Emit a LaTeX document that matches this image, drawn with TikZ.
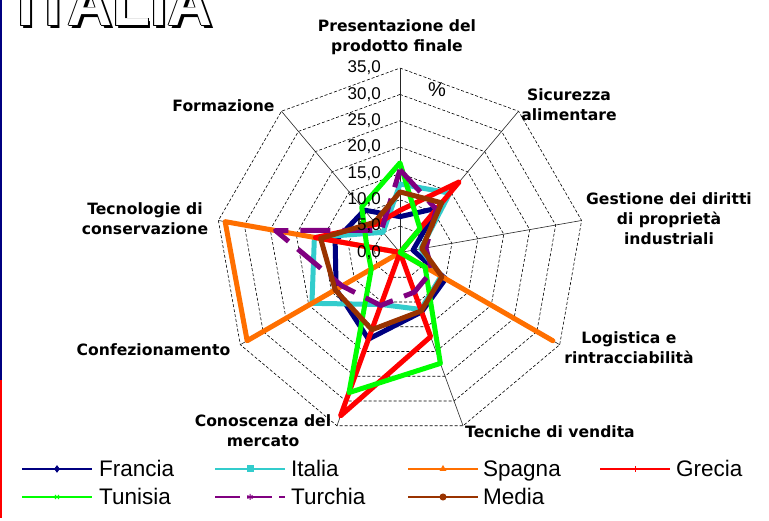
\documentclass[tikz,border=0pt]{standalone}
\usepackage{fontspec}
\setmainfont{Liberation Sans}
\newfontfamily\etichetta{DejaVu Sans}
\usetikzlibrary{plotmarks}

\definecolor{francia}{HTML}{000080}
\definecolor{italia}{HTML}{33CCCC}
\definecolor{spagna}{HTML}{FF6F00}
\definecolor{grecia}{HTML}{FF0000}
\definecolor{tunisia}{HTML}{00FF00}
\definecolor{turchia}{HTML}{800080}
\definecolor{media}{HTML}{993300}

\tikzset{
    anello/.style={black, line width=0.6pt, dash pattern=on 3pt off 2pt},
    raggio/.style={black!85, line width=0.6pt},
    serie/.style={line width=5pt, line join=round},
    asse/.style={font=\etichetta\bfseries\fontsize{15.6}{20}\selectfont, align=center, inner sep=0pt},
    tacca/.style={font=\fontsize{17}{17}\selectfont, anchor=east, inner sep=0pt},
    voce/.style={font=\fontsize{22.5}{23}\selectfont, anchor=base west, inner sep=0pt},
    campione/.style={line width=2.8pt},
    segno/.style={mark size=3pt, mark options={solid, line width=1pt}},
    titolo/.style={font=\bfseries\fontsize{62}{62}\selectfont, anchor=base west, inner sep=0pt}
}

\begin{document}
\begin{tikzpicture}[x=1pt, y=1pt]
    \useasboundingbox (0,0) rectangle (769,521);
    \fill[white] (0,0) rectangle (769,521);

    % bordo della diapositiva
    \draw[francia, line width=2pt] (1,521) -- (1,141);
    \draw[grecia, line width=2pt] (1,141) -- (1,3);

    % titolo in contorno
    \foreach \dx/\dy in {2.4/-2.4, 0.9/0, -0.9/0, 0/0.9, 0/-0.9, 0.6/0.6, -0.6/0.6, 0.6/-0.6, -0.6/-0.6}
        \node[titolo, text=black] at (17+\dx,495+\dy) {ITALIA};
    \node[titolo, text=white] (titolo) at (17,495) {ITALIA};

    \begin{scope}[shift={(400,268.5)}, x=5.2686pt, y=5.2686pt]
        % griglia a nove assi
        \foreach \r in {5,10,...,35}
            \draw[anello] (90:\r) \foreach \a in {50,10,...,-230} {-- (\a:\r)} -- cycle;
        \foreach \a in {90,50,...,-230}
            \draw[raggio] (0,0) -- (\a:35);

        % serie (percentuali)
        \draw[serie, francia] (90:6.8) -- (50:11) -- (10:2.5) -- (-30:10) -- (-70:12) -- (-110:17.5) -- (-150:14) -- (170:12.5) -- (130:10.5) -- cycle;
        \draw[serie, italia] (90:13) -- (50:14.7) -- (10:4) -- (-30:9) -- (-70:11.5) -- (-110:10.5) -- (-150:19.3) -- (170:16.5) -- (130:5) -- cycle;
        \draw[serie, spagna] (90:0) -- (50:0) -- (10:0) -- (-30:33.5) -- (-70:0) -- (-110:0) -- (-150:33.5) -- (170:33.7) -- (130:0) -- cycle;
        \draw[serie, grecia] (90:8) -- (50:17.5) -- (10:0) -- (-30:0) -- (-70:17) -- (-110:33) -- (-150:0) -- (170:16.3) -- (130:7) -- cycle;
        \draw[serie, tunisia] (90:17) -- (50:5.9) -- (10:0) -- (-30:5.5) -- (-70:22.4) -- (-110:28.3) -- (-150:6.3) -- (170:6.4) -- (130:11.3) -- cycle;
        \draw[serie, turchia, dash pattern=on 30pt off 12pt] (90:15.7) -- (50:10.7) -- (10:5) -- (-30:7) -- (-70:8) -- (-110:10.7) -- (-150:12.7) -- (170:24) -- (130:5.5) -- cycle;
        \draw[serie, media] (90:11.5) -- (50:12.3) -- (10:4.2) -- (-30:9.2) -- (-70:11.8) -- (-110:15.6) -- (-150:14.2) -- (170:15.3) -- (130:7.5) -- cycle;

        % valori sull'asse verticale
        \foreach \v in {0,5,...,35}
            \node[tacca] (t\v) at (-3.6,\v) {\v,0};
    \end{scope}

    \node[font=\fontsize{20}{20}\selectfont] (perc) at (437,431) {\%};

    % nomi degli assi
    \node[asse] (pres) at (397,484) {Presentazione del\\prodotto finale};
    \node[asse] (sicur) at (569,416) {Sicurezza\\alimentare};
    \node[asse] (gest) at (669,302.5) {Gestione dei diritti\\di proprietà\\industriali};
    \node[asse] (logist) at (629,173.5) {Logistica e\\rintracciabilità};
    \node[asse] (tecven) at (550,89) {Tecniche di vendita};
    \node[asse] (conosc) at (263,90) {Conoscenza del\\mercato};
    \node[asse] (confez) at (153.5,171.5) {Confezionamento};
    \node[asse] (tecnol) at (145,302) {Tecnologie di\\conservazione};
    \node[asse] (formaz) at (223.5,415.5) {Formazione};

    % legenda
    \draw[campione, francia] (22,52) -- (92,52);
    \draw[francia, segno] plot[mark=diamond*] coordinates {(57,52)};
    \node[voce] (leg-francia) at (99,44) {Francia};
    \draw[campione, italia] (215,52) -- (285,52);
    \draw[italia, segno] plot[mark=square*] coordinates {(250,52)};
    \node[voce] (leg-italia) at (291,44) {Italia};
    \draw[campione, spagna] (408,52) -- (478,52);
    \draw[spagna, segno] plot[mark=triangle*] coordinates {(443,52)};
    \node[voce] (leg-spagna) at (483,44) {Spagna};
    \draw[campione, grecia] (600,52) -- (670,52);
    \draw[grecia, segno] plot[mark=+] coordinates {(635,52)};
    \node[voce] (leg-grecia) at (676,44) {Grecia};
    \draw[campione, tunisia] (22,24) -- (92,24);
    \draw[tunisia, segno] plot[mark=x] coordinates {(57,24)};
    \node[voce] (leg-tunisia) at (99,16) {Tunisia};
    \draw[campione, turchia, dash pattern=on 25pt off 7pt] (215,24) -- (285,24);
    \draw[turchia, segno] plot[mark=asterisk] coordinates {(250,24)};
    \node[voce] (leg-turchia) at (291,16) {Turchia};
    \draw[campione, media] (408,24) -- (478,24);
    \draw[media, segno] plot[mark=*] coordinates {(443,24)};
    \node[voce] (leg-media) at (483,16) {Media};
\end{tikzpicture}
\end{document}
